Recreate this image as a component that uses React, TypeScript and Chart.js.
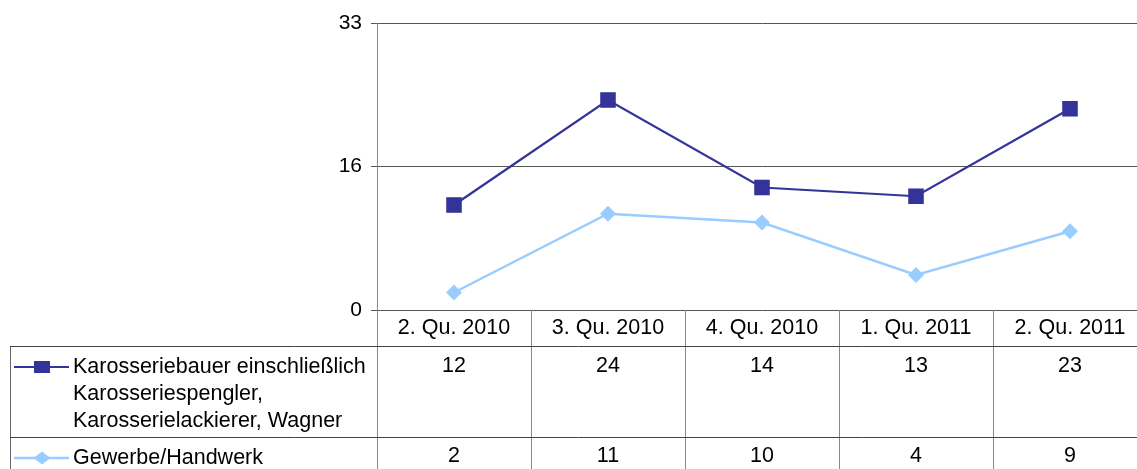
import React, { useEffect, useRef } from "react";
import { Chart, registerables } from "chart.js";

Chart.register(...registerables);

const categories = ["2. Qu. 2010", "3. Qu. 2010", "4. Qu. 2010", "1. Qu. 2011", "2. Qu. 2011"];
const karosserieValues = [12, 24, 14, 13, 23];
const gewerbeValues = [2, 11, 10, 4, 9];
const karosserieLabel = ["Karosseriebauer einschließlich", "Karosseriespengler,", "Karosserielackierer, Wagner"];
const gewerbeLabel = ["Gewerbe/Handwerk"];
const yTickValues = [0, 16.4, 32.8];
const yTickLabels = ["0", "16", "33"];

const DARK = "#333399";
const LIGHT = "#99CCFF";
const FONT = '"Liberation Sans", Arial, sans-serif';

const tablePlugin = {
  id: "dataTable",
  afterDraw(chart: any) {
    const ctx = chart.ctx as CanvasRenderingContext2D;
    const xs = chart.scales.x;
    const area = chart.chartArea;
    const W = chart.width;
    const H = chart.height;
    const n = categories.length;
    const colW = (area.right - area.left) / n;
    const rowTop = area.bottom;
    const catBottom = rowTop + 36;
    const row2Top = catBottom + 91;
    const tableLeft = 10;

    ctx.save();
    ctx.lineWidth = 1;
    ctx.strokeStyle = "#888888";
    for (let i = 0; i <= n; i++) {
      const vx = Math.round(area.left + i * colW) + 0.5;
      ctx.beginPath();
      ctx.moveTo(vx, rowTop);
      ctx.lineTo(vx, H);
      ctx.stroke();
    }
    ctx.strokeStyle = "#666666";
    ctx.beginPath();
    ctx.moveTo(tableLeft + 0.5, catBottom);
    ctx.lineTo(tableLeft + 0.5, H);
    ctx.stroke();
    ctx.strokeStyle = "#444444";
    [catBottom, row2Top].forEach((y) => {
      ctx.beginPath();
      ctx.moveTo(tableLeft, Math.round(y) + 0.5);
      ctx.lineTo(W, Math.round(y) + 0.5);
      ctx.stroke();
    });

    ctx.fillStyle = "#000000";
    ctx.font = `21.5px ${FONT}`;
    ctx.textAlign = "center";
    ctx.textBaseline = "middle";
    categories.forEach((c, i) => {
      ctx.fillText(c, xs.getPixelForValue(i), rowTop + 18.5);
    });
    karosserieValues.forEach((v, i) => {
      ctx.fillText(String(v), xs.getPixelForValue(i), catBottom + 20.5);
    });
    gewerbeValues.forEach((v, i) => {
      ctx.fillText(String(v), xs.getPixelForValue(i), row2Top + 19.5);
    });

    const drawKey = (y: number, color: string, lw: number, shape: string) => {
      ctx.strokeStyle = color;
      ctx.lineWidth = lw;
      ctx.beginPath();
      ctx.moveTo(14, y);
      ctx.lineTo(69, y);
      ctx.stroke();
      ctx.fillStyle = color;
      ctx.beginPath();
      if (shape === "rect") {
        ctx.rect(42 - 8, y - 6, 16, 12);
      } else {
        ctx.moveTo(42 - 8.5, y);
        ctx.lineTo(42, y - 6.5);
        ctx.lineTo(42 + 8.5, y);
        ctx.lineTo(42, y + 6.5);
        ctx.closePath();
      }
      ctx.fill();
    };
    drawKey(catBottom + 21, DARK, 2, "rect");
    drawKey(row2Top + 21, LIGHT, 2.5, "diamond");

    ctx.fillStyle = "#000000";
    ctx.textAlign = "left";
    karosserieLabel.forEach((t, i) => {
      ctx.fillText(t, 73, catBottom + 21 + i * 27);
    });
    gewerbeLabel.forEach((t, i) => {
      ctx.fillText(t, 73, row2Top + 21 + i * 27);
    });
    ctx.restore();
  },
};

export default function App() {
  const ref = useRef<HTMLCanvasElement | null>(null);
  useEffect(() => {
    document.body.style.margin = "0";
    if (!ref.current) return;
    const chart = new Chart(ref.current, {
      type: "line",
      data: {
        labels: categories,
        datasets: [
          {
            label: karosserieLabel.join(" "),
            data: karosserieValues,
            borderColor: DARK,
            backgroundColor: DARK,
            borderWidth: 2.2,
            pointStyle: "rect",
            pointRadius: 11,
            pointHoverRadius: 11,
            pointBorderWidth: 0,
            tension: 0,
          },
          {
            label: gewerbeLabel.join(" "),
            data: gewerbeValues,
            borderColor: LIGHT,
            backgroundColor: LIGHT,
            borderWidth: 2.5,
            pointStyle: "rectRot",
            pointRadius: 8,
            pointHoverRadius: 8,
            pointBorderWidth: 0,
            tension: 0,
          },
        ],
      },
      options: {
        responsive: false,
        animation: false,
        layout: { autoPadding: false, padding: { top: 23, bottom: 159, left: 0, right: 0 } },
        plugins: { legend: { display: false }, tooltip: { enabled: false } },
        scales: {
          x: { type: "category", display: false, offset: true },
          y: {
            min: 0,
            max: 32.8,
            afterFit: (s: any) => {
              s.width = 377;
            },
            afterBuildTicks: (s: any) => {
              s.ticks = yTickValues.map((v) => ({ value: v }));
            },
            ticks: {
              color: "#000000",
              font: { family: FONT, size: 21 },
              padding: 9,
              callback: (_v: any, i: number) => yTickLabels[i],
            },
            grid: { color: "#555555", lineWidth: 1, tickLength: 6, tickColor: "#555555" },
            border: { color: "#888888", width: 1 },
          },
        },
      },
      plugins: [tablePlugin],
    });
    return () => chart.destroy();
  }, []);
  return (
    <div style={{ width: 1137, height: 469, overflow: "hidden" }}>
      <canvas ref={ref} width={1147} height={469} style={{ display: "block", width: 1147, height: 469 }} />
    </div>
  );
}
